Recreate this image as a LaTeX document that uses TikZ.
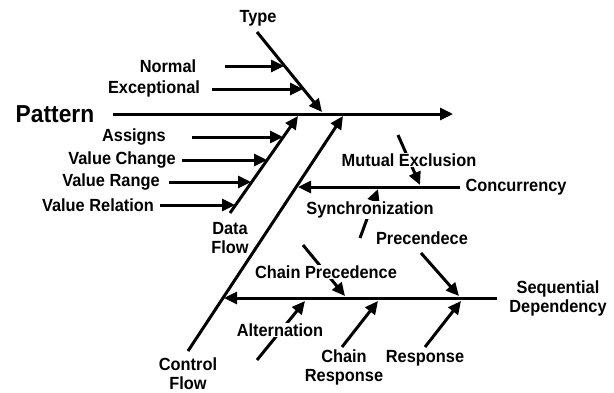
\documentclass[tikz,border=0pt]{standalone}
\usepackage{fontspec}
\setmainfont[FakeStretch=0.93]{Liberation Sans}
\usetikzlibrary{arrows.meta}
\begin{document}
\begin{tikzpicture}[x=1pt,y=-1pt,
  bone/.style={line width=3pt,-{Triangle[length=13pt,width=12pt]}},
  lbl/.style={font=\fontsize{17.6}{19}\selectfont\bfseries,inner sep=1pt,align=center},
  cut/.style={lbl,fill=white}]
\useasboundingbox (0,0) rectangle (614,392);
% coordinates
\coordinate (pS) at (113,114); \coordinate (pE) at (453,114);
\coordinate (tyS) at (257,32); \coordinate (tyE) at (322,112);
\coordinate (nS) at (225,66); \coordinate (nE) at (284,66);
\coordinate (eS) at (212,89); \coordinate (eE) at (303,89);
\coordinate (dfS) at (230,213); \coordinate (dfE) at (298,116);
\coordinate (asS) at (192,137); \coordinate (asE) at (283,137);
\coordinate (vcS) at (182,160); \coordinate (vcE) at (267,160);
\coordinate (vrS) at (169,182); \coordinate (vrE) at (251,182);
\coordinate (vlS) at (160,205); \coordinate (vlE) at (235,205);
\coordinate (cfS) at (188,351); \coordinate (cfE) at (343,116);
\coordinate (coS) at (460,187); \coordinate (coE) at (298,187);
\coordinate (meS) at (398,135); \coordinate (meE) at (420,185);
\coordinate (syS) at (360,238); \coordinate (syE) at (378,189);
\coordinate (sqS) at (497,298); \coordinate (sqE) at (224,298);
\coordinate (cpS) at (303,245); \coordinate (cpE) at (345,296);
\coordinate (prS) at (421,253); \coordinate (prE) at (459,296);
\coordinate (alS) at (257,360); \coordinate (alE) at (305,301);
\coordinate (crS) at (342,347); \coordinate (crE) at (378,301);
\coordinate (rsS) at (425,347); \coordinate (rsE) at (461,301);
% bones
\draw[bone] (pS) -- (pE);
\draw[bone] (tyS) -- (tyE);
\draw[bone] (nS) -- (nE);
\draw[bone] (eS) -- (eE);
\draw[bone] (dfS) -- (dfE);
\draw[bone] (asS) -- (asE);
\draw[bone] (vcS) -- (vcE);
\draw[bone] (vrS) -- (vrE);
\draw[bone] (vlS) -- (vlE);
\draw[bone] (cfS) -- (cfE);
\draw[bone] (coS) -- (coE);
\draw[bone] (meS) -- (meE);
\draw[bone] (syS) -- (syE);
\draw[bone] (sqS) -- (sqE);
\draw[bone] (cpS) -- (cpE);
\draw[bone] (prS) -- (prE);
\draw[bone] (alS) -- (alE);
\draw[bone] (crS) -- (crE);
\draw[bone] (rsS) -- (rsE);
% labels
\node[lbl,font=\fontsize{24.5}{27}\selectfont\bfseries] (pattern) at (55,114) {Pattern};
\node[lbl] (type) at (258,18) {Type};
\node[lbl] (normal) at (168,66) {Normal};
\node[lbl] (exceptional) at (154,89) {Exceptional};
\node[lbl] (assigns) at (134,137) {Assigns};
\node[lbl] (valuechange) at (122,160) {Value Change};
\node[lbl] (valuerange) at (111,182) {Value Range};
\node[lbl] (valuerelation) at (98,205) {Value Relation};
\node[lbl] (dataflow) at (230,238) {Data\\Flow};
\node[lbl] (concurrency) at (516,187) {Concurrency};
\node[cut] (mutual) at (409,160) {Mutual Exclusion};
\node[cut] (sync) at (370,210) {Synchronization};
\node[lbl] (prec) at (422,238) {Precendece};
\node[cut] (chainprec) at (326,272) {Chain Precedence};
\node[lbl] (seqdep) at (558,298) {Sequential\\Dependency};
\node[cut] (alternation) at (280,330) {Alternation};
\node[lbl] (chainresp) at (344,367) {Chain\\Response};
\node[lbl] (response) at (425,358) {Response};
\node[lbl] (controlflow) at (188,374) {Control\\Flow};
\end{tikzpicture}
\end{document}
